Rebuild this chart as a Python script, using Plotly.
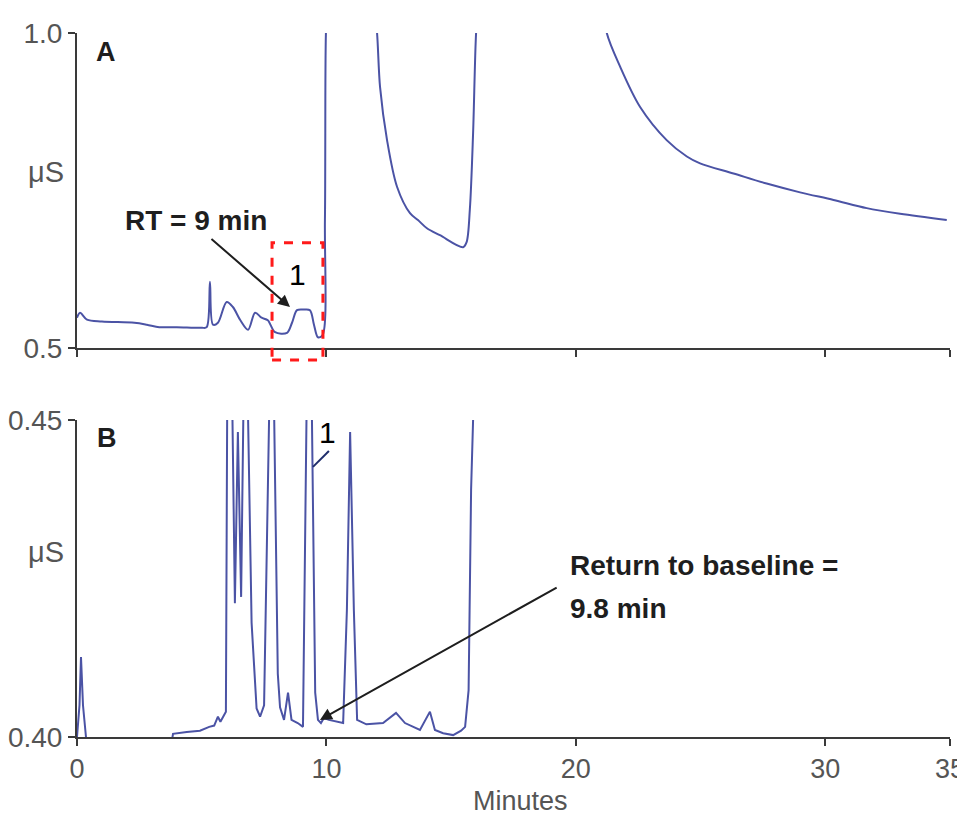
import plotly.graph_objects as go

# ---------------- data ----------------
# Panel A (0.5 - 1.0 uS); values > 1.0 are off-scale
a_minutes = [0.0, 0.12, 0.4, 1.0, 2.3, 2.8, 3.3, 4.0, 5.0, 5.2, 5.33, 5.45, 5.65, 6.0, 6.25,
             6.55, 6.86, 7.14, 7.4, 7.65, 7.94, 8.42, 8.62, 8.82, 9.1, 9.34, 9.5, 9.66, 9.84,
             9.94, 9.98, 10.05,
             11.9, 12.03, 12.15, 12.43, 12.83, 13.35, 13.67, 14.03, 14.55, 15.48, 15.62, 15.75,
             15.88, 16.0, 16.1,
             21.1, 21.24, 21.77, 22.57, 23.64, 24.45, 24.98, 26.32, 27.65, 28.99, 30.33, 31.66,
             33.0, 34.87]
a_signal = [0.548, 0.556, 0.545, 0.542, 0.540, 0.537, 0.533, 0.533, 0.532, 0.533, 0.605, 0.537, 0.540,
            0.573, 0.565, 0.544, 0.529, 0.556, 0.548, 0.544, 0.525, 0.524, 0.540, 0.560, 0.561, 0.560,
            0.537, 0.517, 0.520, 0.703, 1.0, 1.05,
            1.05, 1.0, 0.914, 0.830, 0.756, 0.714, 0.703, 0.690, 0.679, 0.660, 0.668, 0.720,
            0.841, 1.0, 1.05,
            1.05, 1.0, 0.947, 0.883, 0.830, 0.804, 0.793, 0.777, 0.761, 0.747, 0.735, 0.722,
            0.713, 0.703]

# Panel B (0.40 - 0.45 uS); values outside the range are off-scale
b_minutes = [0.0, 0.1, 0.16, 0.24, 0.36, 0.45,
             3.7, 3.85, 4.4, 4.93, 5.3, 5.5, 5.65, 5.75, 5.97,
             6.03, 6.1, 6.2, 6.33, 6.45, 6.58, 6.66, 6.76, 6.86, 7.0, 7.2, 7.34, 7.5,
             7.7, 7.8, 7.9, 8.05, 8.14, 8.3, 8.46, 8.6, 8.85, 9.06,
             9.2, 9.32, 9.42, 9.55, 9.66, 9.78, 9.9, 10.1, 10.67, 10.82, 10.95, 11.1, 11.23,
             11.6, 12.27, 12.79, 13.15, 13.75, 14.15, 14.35, 14.68, 15.08, 15.4, 15.56, 15.7,
             15.8, 15.88, 15.95]
b_signal = [0.400, 0.405, 0.4126, 0.405, 0.400, 0.397,
            0.397, 0.4005, 0.4008, 0.4010, 0.4016, 0.4018, 0.4032, 0.4024, 0.4040,
            0.46, 0.48, 0.46, 0.4211, 0.4481, 0.4221, 0.45, 0.48, 0.45, 0.418, 0.4045, 0.4032, 0.405,
            0.45, 0.48, 0.45, 0.410, 0.4047, 0.4027, 0.4070, 0.4027, 0.4022, 0.4016,
            0.45, 0.48, 0.45, 0.407, 0.4027, 0.4022, 0.4030, 0.4027, 0.4022, 0.42, 0.4481, 0.42,
            0.4027, 0.4020, 0.4022, 0.4038, 0.4022, 0.4011, 0.4040, 0.4011, 0.4006, 0.4003,
            0.4010, 0.4016, 0.4074, 0.439, 0.45, 0.47]

x_ticks = [0, 10, 20, 30, 35]
a_yticks = [0.5, 1.0]
a_yticktext = ["0.5", "1.0"]
b_yticks = [0.40, 0.45]
b_yticktext = ["0.40", "0.45"]

X_RANGE = [0, 35]
A_RANGE = [0.5, 1.0]
B_RANGE = [0.40, 0.45]
A_DOMAIN = [0.5526, 1.0]
B_DOMAIN = [0.0, 0.4503]

# ---------------- style ----------------
LINE = "#4b53a5"
AXIS = "#3a3a3a"
TICKC = "#555555"
FONT = "Liberation Sans, Arial, Helvetica, sans-serif"
DARK = "#1e1e1e"

def a_paper(v):
    return A_DOMAIN[0] + (v - A_RANGE[0]) / (A_RANGE[1] - A_RANGE[0]) * (A_DOMAIN[1] - A_DOMAIN[0])

fig = go.Figure()
fig.add_trace(go.Scatter(x=a_minutes, y=a_signal, mode="lines", xaxis="x", yaxis="y",
                         line=dict(color=LINE, width=2, shape="spline", smoothing=0.9),
                         showlegend=False, hoverinfo="skip"))
fig.add_trace(go.Scatter(x=b_minutes, y=b_signal, mode="lines", xaxis="x2", yaxis="y2",
                         line=dict(color=LINE, width=2),
                         showlegend=False, hoverinfo="skip"))

axis_common = dict(showline=True, linecolor=AXIS, linewidth=2, showgrid=False, zeroline=False,
                   ticks="outside", ticklen=7, tickwidth=2, tickcolor=AXIS, automargin=False)
yfont = dict(family=FONT, size=28, color=TICKC)
xfont = dict(family=FONT, size=27, color=TICKC)

# the page body has an 8px margin; the figure starts at (8, 8) and reaches the window edge
fig.update_layout(
    width=957, height=812,
    margin=dict(l=69, r=15, t=25, b=83),
    paper_bgcolor="white", plot_bgcolor="white",
    xaxis=dict(domain=[0, 1], anchor="y", range=X_RANGE, tickvals=x_ticks,
               showticklabels=False, **axis_common),
    yaxis=dict(domain=A_DOMAIN, anchor="x", range=A_RANGE, tickvals=a_yticks,
               ticktext=a_yticktext, tickfont=yfont, **axis_common),
    xaxis2=dict(domain=[0, 1], anchor="y2", range=X_RANGE, tickvals=x_ticks,
                ticklabeloverflow="allow", tickfont=xfont, **axis_common),
    yaxis2=dict(domain=B_DOMAIN, anchor="x2", range=B_RANGE, tickvals=b_yticks,
                ticktext=b_yticktext, tickfont=yfont, **axis_common),
)

annots = [
    dict(text="Minutes", x=17.8, y=0, xref="x2", yref="paper", yanchor="bottom", yshift=-81,
         showarrow=False, font=dict(family=FONT, size=27, color=TICKC)),
    dict(text="<b>A</b>", x=1.15, y=0.970, xref="x", yref="y", showarrow=False,
         font=dict(family=FONT, size=27, color=DARK)),
    dict(text="<b>B</b>", x=1.2, y=0.4472, xref="x2", yref="y2", showarrow=False,
         font=dict(family=FONT, size=27, color=DARK)),
    dict(text="μS", x=-0.0126, y=0.779, xref="paper", yref="y", xanchor="right", showarrow=False,
         font=dict(family=FONT, size=29, color=TICKC)),
    dict(text="μS", x=-0.0126, y=0.4292, xref="paper", yref="y2", xanchor="right", showarrow=False,
         font=dict(family=FONT, size=29, color=TICKC)),
    dict(text="<b>RT = 9 min</b>", x=4.77, y=0.702, xref="x", yref="y", showarrow=False,
         font=dict(family=FONT, size=28, color=DARK)),
    dict(text="", x=8.54, y=0.565, ax=5.33, ay=0.675, xref="x", yref="y", axref="x", ayref="y",
         showarrow=True, arrowhead=2, arrowsize=1.2, arrowwidth=2, arrowcolor=DARK),
    dict(text="1", x=8.82, y=0.617, xref="x", yref="y", showarrow=False,
         font=dict(family=FONT, size=30, color="black")),
    dict(text="1", x=10.06, y=0.4481, xref="x2", yref="y2", showarrow=False,
         font=dict(family=FONT, size=30, color="black")),
    dict(text="<b>Return to baseline =</b>", x=19.69, y=0.4271, xref="x2", yref="y2",
         xanchor="left", showarrow=False, font=dict(family=FONT, size=28, color=DARK)),
    dict(text="<b>9.8 min</b>", x=19.69, y=0.4202, xref="x2", yref="y2",
         xanchor="left", showarrow=False, font=dict(family=FONT, size=28, color=DARK)),
    dict(text="", x=9.74, y=0.4027, ax=19.29, ay=0.4237, xref="x2", yref="y2", axref="x2", ayref="y2",
         showarrow=True, arrowhead=2, arrowsize=1.2, arrowwidth=2, arrowcolor=DARK),
]
fig.update_layout(annotations=annots)

fig.add_shape(type="rect", xref="x", yref="paper", x0=7.82, x1=9.86,
              y0=a_paper(0.481), y1=a_paper(0.667),
              line=dict(color="#ff1a1a", width=3, dash="dash"), fillcolor="rgba(0,0,0,0)")
fig.add_shape(type="line", xref="x2", yref="y2", x0=9.46, y0=0.4426, x1=10.1, y1=0.4451,
              line=dict(color="#1f2d6b", width=2))

fig.write_html("out.html")
